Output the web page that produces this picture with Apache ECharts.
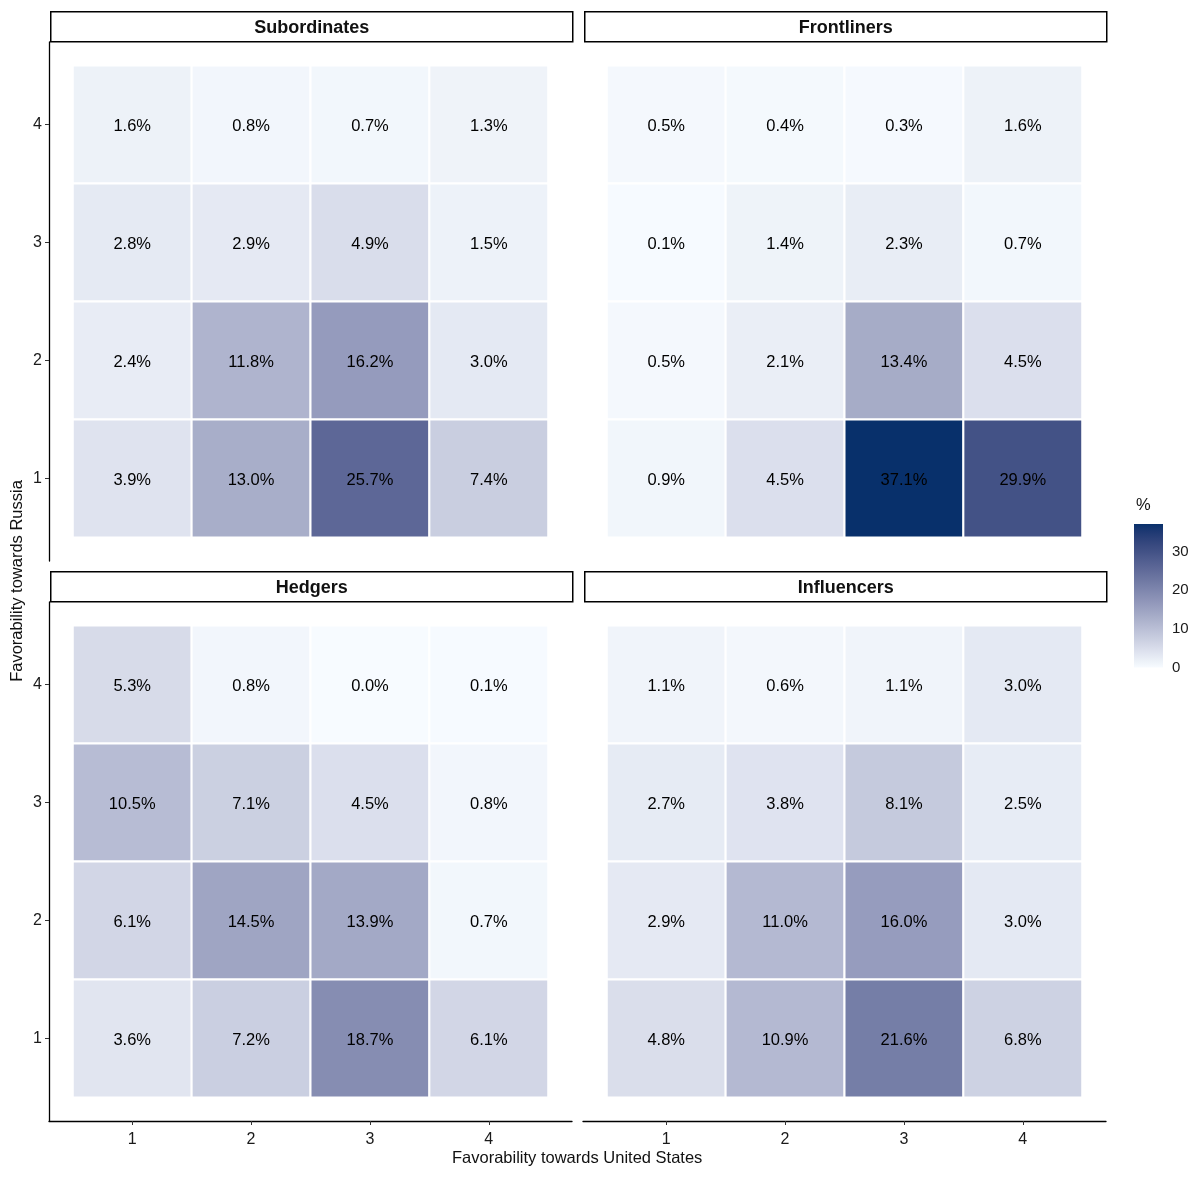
<!DOCTYPE html>
<html>
<head>
<meta charset="utf-8">
<script src="https://cdn.jsdelivr.net/npm/echarts@6/dist/echarts.min.js"></script>
<style>
  html, body { margin: 0; padding: 0; background: #fff; }
  #chart { width: 1200px; height: 1178px; }
</style>
</head>
<body>
<div id="chart"></div>
<script>
// facets and grid levels
const panels = ['Subordinates', 'Frontliners', 'Hedgers', 'Influencers'];
const levels = [1, 2, 3, 4];
const ticks = [1, 2, 3, 4];
const legendTicks = [0, 10, 20, 30];

// shares in %, rows are Russia = 4,3,2,1 (top to bottom), columns United States = 1..4
const subordinates = [
  [1.6, 0.8, 0.7, 1.3],
  [2.8, 2.9, 4.9, 1.5],
  [2.4, 11.8, 16.2, 3.0],
  [3.9, 13.0, 25.7, 7.4]
];
const frontliners = [
  [0.5, 0.4, 0.3, 1.6],
  [0.1, 1.4, 2.3, 0.7],
  [0.5, 2.1, 13.4, 4.5],
  [0.9, 4.5, 37.1, 29.9]
];
const hedgers = [
  [5.3, 0.8, 0.0, 0.1],
  [10.5, 7.1, 4.5, 0.8],
  [6.1, 14.5, 13.9, 0.7],
  [3.6, 7.2, 18.7, 6.1]
];
const influencers = [
  [1.1, 0.6, 1.1, 3.0],
  [2.7, 3.8, 8.1, 2.5],
  [2.9, 11.0, 16.0, 3.0],
  [4.8, 10.9, 21.6, 6.8]
];
const tables = [subordinates, frontliners, hedgers, influencers];

const FONT = '"Liberation Sans", Arial, Helvetica, sans-serif';
const LOW = '#F7FBFF', HIGH = '#08306B';

// colour ramp interpolated in Lab, like ggplot's gradient
function hexToRgb(h) {
  return [1, 3, 5].map(i => parseInt(h.substr(i, 2), 16) / 255);
}
function lin(c) { return c <= 0.04045 ? c / 12.92 : Math.pow((c + 0.055) / 1.055, 2.4); }
function unlin(c) { return c <= 0.0031308 ? 12.92 * c : 1.055 * Math.pow(c, 1 / 2.4) - 0.055; }
function rgbToLab(rgb) {
  const [r, g, b] = rgb.map(lin);
  let x = (0.4124 * r + 0.3576 * g + 0.1805 * b) / 0.95047;
  let y = (0.2126 * r + 0.7152 * g + 0.0722 * b);
  let z = (0.0193 * r + 0.1192 * g + 0.9505 * b) / 1.08883;
  const f = t => t > 0.008856 ? Math.cbrt(t) : 7.787 * t + 16 / 116;
  x = f(x); y = f(y); z = f(z);
  return [116 * y - 16, 500 * (x - y), 200 * (y - z)];
}
function labToHex(lab) {
  const fy = (lab[0] + 16) / 116, fx = fy + lab[1] / 500, fz = fy - lab[2] / 200;
  const inv = t => t * t * t > 0.008856 ? t * t * t : (t - 16 / 116) / 7.787;
  const x = inv(fx) * 0.95047, y = inv(fy), z = inv(fz) * 1.08883;
  const r = 3.2406 * x - 1.5372 * y - 0.4986 * z;
  const g = -0.9689 * x + 1.8758 * y + 0.0415 * z;
  const b = 0.0557 * x - 0.2040 * y + 1.0570 * z;
  return '#' + [r, g, b].map(c => {
    const v = Math.round(Math.min(1, Math.max(0, unlin(c))) * 255);
    return (v < 16 ? '0' : '') + v.toString(16);
  }).join('');
}
const labLow = rgbToLab(hexToRgb(LOW)), labHigh = rgbToLab(hexToRgb(HIGH));
const ramp = [];
for (let i = 0; i <= 20; i++) {
  const t = i / 20;
  ramp.push(labToHex(labLow.map((v, k) => v + (labHigh[k] - v) * t)));
}

const maxVal = Math.max(...tables.flat(2));
const minVal = 0;

// panel boxes
const boxes = [
  { left: 49, top: 42 },
  { left: 583, top: 42 },
  { left: 49, top: 602 },
  { left: 583, top: 602 }
];
const PW = 523, PH = 519;

const grids = [], xAxes = [], yAxes = [], series = [], graphics = [];

boxes.forEach((b, i) => {
  const showY = i % 2 === 0;
  const showX = i >= 2;
  grids.push({ left: b.left, top: b.top, width: PW, height: PH });
  xAxes.push({
    type: 'value', gridIndex: i, min: 0.3, max: 4.7,
    splitLine: { show: false },
    axisLine: { show: showX, onZero: false, lineStyle: { color: '#000', width: 1.3 } },
    axisTick: { show: showX, length: 4, lineStyle: { color: '#333' }, customValues: ticks },
    axisLabel: { show: showX, customValues: ticks, color: '#1a1a1a', fontSize: 16, fontFamily: FONT, margin: 11 }
  });
  yAxes.push({
    type: 'value', gridIndex: i, min: 0.3, max: 4.7,
    splitLine: { show: false },
    axisLine: { show: showY, onZero: false, lineStyle: { color: '#000', width: 1.3 } },
    axisTick: { show: showY, length: 4, lineStyle: { color: '#333' }, customValues: ticks },
    axisLabel: {
      show: showY, customValues: ticks, color: '#1a1a1a', fontSize: 16, fontFamily: FONT, margin: 7,
      padding: [4, 0, 0, 0]
    }
  });

  const data = [];
  tables[i].forEach((row, r) => {
    row.forEach((v, c) => data.push([levels[c], levels[3 - r], v]));
  });
  series.push({
    type: 'custom', name: panels[i], xAxisIndex: i, yAxisIndex: i,
    data: data,
    renderItem: function (params, api) {
      const x = api.value(0), y = api.value(1);
      const p0 = api.coord([x - 0.5, y + 0.5]);
      const p1 = api.coord([x + 0.5, y - 0.5]);
      return {
        type: 'group',
        children: [{
          type: 'rect',
          shape: { x: p0[0], y: p0[1], width: p1[0] - p0[0], height: p1[1] - p0[1] },
          style: { fill: api.visual('color'), stroke: '#fff', lineWidth: 2 }
        }, {
          type: 'text',
          style: {
            text: api.value(2).toFixed(1) + '%',
            x: (p0[0] + p1[0]) / 2, y: (p0[1] + p1[1]) / 2 + 2,
            align: 'center', verticalAlign: 'middle',
            fill: '#000', font: '16.5px ' + FONT
          }
        }]
      };
    }
  });

  // facet strip
  graphics.push({
    type: 'group', left: b.left + 1, top: b.top - 31,
    children: [{
      type: 'rect', shape: { x: 0, y: 0, width: PW - 1, height: 30 },
      style: { fill: '#fff', stroke: '#000', lineWidth: 1.5 }
    }, {
      type: 'text',
      style: {
        text: panels[i], x: (PW - 1) / 2, y: 16, align: 'center', verticalAlign: 'middle',
        fill: '#111', font: 'bold 18px ' + FONT
      }
    }]
  });
});

// colour bar as its own little grid
const cbIndex = 4;
grids.push({ left: 1134, top: 524, width: 29, height: 143.5 });
xAxes.push({ type: 'value', gridIndex: cbIndex, min: 0, max: 1, show: false });
yAxes.push({
  type: 'value', gridIndex: cbIndex, min: minVal, max: maxVal, position: 'right',
  splitLine: { show: false }, axisLine: { show: false },
  axisTick: { show: true, inside: true, length: 5, customValues: legendTicks, lineStyle: { color: '#fff', width: 1 } },
  axisLabel: { customValues: legendTicks, color: '#1a1a1a', fontSize: 15, fontFamily: FONT, margin: 9, padding: [3, 0, 0, 0] }
});
yAxes.push({
  type: 'value', gridIndex: cbIndex, min: minVal, max: maxVal, position: 'left',
  splitLine: { show: false }, axisLine: { show: false },
  axisTick: { show: true, inside: true, length: 5, customValues: legendTicks, lineStyle: { color: '#fff', width: 1 } },
  axisLabel: { show: false }
});
series.push({
  type: 'custom', xAxisIndex: cbIndex, yAxisIndex: cbIndex, z: 1,
  data: [[0, minVal, 1, maxVal]],
  renderItem: function (params, api) {
    const p0 = api.coord([api.value(0), api.value(3)]);
    const p1 = api.coord([api.value(2), api.value(1)]);
    return {
      type: 'rect',
      shape: { x: p0[0], y: p0[1], width: p1[0] - p0[0], height: p1[1] - p0[1] },
      style: {
        fill: {
          type: 'linear', x: 0, y: 1, x2: 0, y2: 0,
          colorStops: ramp.map((c, k) => ({ offset: k / (ramp.length - 1), color: c }))
        }
      }
    };
  }
});

graphics.push({
  type: 'text', left: 1136, top: 497,
  style: { text: '%', fill: '#111', font: '16.5px ' + FONT }
});
graphics.push({
  type: 'text', left: 452, top: 1150,
  style: { text: 'Favorability towards United States', fill: '#111', font: '16.5px ' + FONT }
});
graphics.push({
  type: 'text', x: 17, y: 581, rotation: Math.PI / 2,
  style: {
    text: 'Favorability towards Russia', fill: '#111', font: '16.5px ' + FONT,
    align: 'center', verticalAlign: 'middle'
  }
});

const chart = echarts.init(document.getElementById('chart'));
chart.setOption({
  backgroundColor: '#fff',
  animation: false,
  grid: grids,
  xAxis: xAxes,
  yAxis: yAxes,
  visualMap: {
    type: 'continuous', show: false, min: minVal, max: maxVal, dimension: 2,
    seriesIndex: [0, 1, 2, 3],
    inRange: { color: ramp }
  },
  series: series,
  graphic: graphics
});
</script>
</body>
</html>
